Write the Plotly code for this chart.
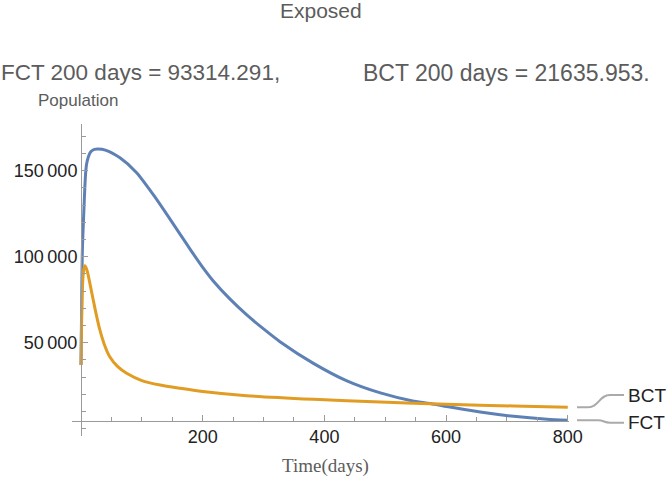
import plotly.graph_objects as go

# ---------------- data ----------------
fct_days = [0, 1, 2, 3, 4.5, 6, 7.5, 9, 12, 16, 22, 28, 40, 64, 91, 120, 146, 163,
            180, 201, 217, 245, 272, 300, 327, 382, 437, 492, 547, 582, 601, 656,
            711, 766, 800]
fct_vals = [37000, 70000, 100000, 112000, 125000, 138000, 148000, 153500, 158000,
            161000, 162400, 162600, 162000, 157500, 149000, 135500, 122000, 113000,
            104000, 93300, 86000, 75300, 66300, 58000, 50600, 38000, 27800, 20800,
            16000, 14200, 12900, 9700, 7200, 5500, 4880]

bct_days = [0, 1, 2, 3, 4.5, 6.5, 9, 12, 16, 20, 25, 31, 38, 47, 60, 75, 100, 130,
            163, 200, 272, 382, 492, 601, 711, 800]
bct_vals = [37000, 62000, 78000, 87000, 92500, 94800, 93000, 89000, 82000, 75000,
            66500, 57400, 49300, 42000, 36200, 32200, 28000, 25400, 23500, 21636,
            19200, 17100, 15500, 14200, 13200, 12400]

x_tickvals = [200, 400, 600, 800]
x_ticktext = ["200", "400", "600", "800"]
y_tickvals = [50000, 100000, 150000]
y_ticktext = ["50\u2009000", "100\u2009000", "150\u2009000"]

title_text = "Exposed"
fct_note = "FCT 200 days = 93314.291,"
bct_note = "BCT 200 days = 21635.953."
y_label = "Population"
x_label = "Time(days)"
series_names = ["FCT", "BCT"]

# ---------------- layout geometry ----------------
W, H = 667, 479
L, R, T, B = 72, 569, 124, 436          # plot area in pixels
XMIN, XMAX = -14.8, 802.0
YMIN, YMAX = -4244.0, 177150.0
X_AXIS_AT = 4650.0                        # where the x axis crosses
Y_AXIS_AT = 0.0

def px(xp):   # pixel -> paper x
    return (xp - L) / (R - L)

def py(yp):   # pixel -> paper y
    return (B - yp) / (B - T)

def dx(v):    # data -> paper x
    return (v - XMIN) / (XMAX - XMIN)

def dy(v):    # data -> paper y
    return (v - YMIN) / (YMAX - YMIN)

BLUE = "rgb(94,129,181)"
ORANGE = "rgb(225,156,36)"
AXIS = "#9a9a9a"
TEXT_GRAY = "#5c5c5c"
FONT = "Liberation Sans, Arial, sans-serif"

fig = go.Figure()
fig.add_trace(go.Scatter(x=fct_days, y=fct_vals, mode="lines", name=series_names[0],
                         line=dict(color=BLUE, width=3, shape="spline", smoothing=0.7)))
fig.add_trace(go.Scatter(x=bct_days, y=bct_vals, mode="lines", name=series_names[1],
                         line=dict(color=ORANGE, width=3, shape="spline", smoothing=0.7)))

fig.update_layout(
    width=W, height=H,
    margin=dict(l=L, r=W - R, t=T, b=H - B, pad=0),
    paper_bgcolor="white", plot_bgcolor="white",
    showlegend=False,
    font=dict(family=FONT, color="#222"),
    xaxis=dict(range=[XMIN, XMAX], anchor="free", position=dy(X_AXIS_AT),
               showline=True, linecolor=AXIS, linewidth=1,
               ticks="inside", ticklen=6, tickwidth=1, tickcolor=AXIS,
               tickmode="array", tickvals=x_tickvals, ticktext=x_ticktext,
               tickfont=dict(size=18, color="#222", family=FONT),
               minor=dict(tickmode="linear", tick0=0, dtick=50, ticks="inside",
                          ticklen=3.5, tickcolor=AXIS, showgrid=False),
               showgrid=False, zeroline=False, fixedrange=True),
    yaxis=dict(range=[YMIN, YMAX], anchor="free", position=dx(Y_AXIS_AT),
               showline=True, linecolor=AXIS, linewidth=1,
               ticks="inside", ticklen=6, tickwidth=1, tickcolor=AXIS,
               tickmode="array", tickvals=y_tickvals, ticktext=y_ticktext,
               tickfont=dict(size=18, color="#222", family=FONT),
               minor=dict(tickmode="linear", tick0=0, dtick=10000, ticks="inside",
                          ticklen=3.5, tickcolor=AXIS, showgrid=False),
               showgrid=False, zeroline=False, fixedrange=True),
)

ann = []
ann.append(dict(text=title_text, x=px(321), y=py(11), xref="paper", yref="paper",
                xanchor="center", yanchor="middle", showarrow=False,
                font=dict(size=21, color=TEXT_GRAY, family=FONT)))
ann.append(dict(text=fct_note, x=px(-1), y=py(73), xref="paper", yref="paper",
                xanchor="left", yanchor="middle", showarrow=False,
                font=dict(size=22.5, color=TEXT_GRAY, family=FONT)))
ann.append(dict(text=bct_note, x=px(361), y=py(73), xref="paper", yref="paper",
                xanchor="left", yanchor="middle", showarrow=False,
                font=dict(size=23, color=TEXT_GRAY, family=FONT)))
ann.append(dict(text=y_label, x=px(36), y=py(100), xref="paper", yref="paper",
                xanchor="left", yanchor="middle", showarrow=False,
                font=dict(size=17, color=TEXT_GRAY, family=FONT)))
ann.append(dict(text=x_label, x=px(325), y=py(466), xref="paper", yref="paper",
                xanchor="center", yanchor="middle", showarrow=False,
                font=dict(size=19, color=TEXT_GRAY, family="Liberation Serif, Times New Roman, serif")))
ann.append(dict(text=series_names[1], x=px(626), y=py(395), xref="paper", yref="paper",
                xanchor="left", yanchor="middle", showarrow=False,
                font=dict(size=19, color="#222", family=FONT)))
ann.append(dict(text=series_names[0], x=px(626), y=py(422.7), xref="paper", yref="paper",
                xanchor="left", yanchor="middle", showarrow=False,
                font=dict(size=19, color="#222", family=FONT)))
fig.update_layout(annotations=ann)

# leader lines from the series ends to their labels
def leader(y_end_val, label_py, bend_start, bend_end):
    ys = dy(y_end_val)
    yl = py(label_py)
    x0, x1, x2, x3 = px(577), px(bend_start), px(bend_end), px(624)
    xm = (x1 + x2) / 2
    return (f"M {x0},{ys} L {x1},{ys} C {xm},{ys} {xm},{yl} {x2},{yl} L {x3},{yl}")

fig.update_layout(shapes=[
    dict(type="path", xref="paper", yref="paper",
         path=leader(bct_vals[-1], 395, 588, 610),
         line=dict(color="#aaaaaa", width=2)),
    dict(type="path", xref="paper", yref="paper",
         path=leader(fct_vals[-1], 422.7, 598, 610),
         line=dict(color="#aaaaaa", width=2)),
])

fig.write_html("out.html", config={"displayModeBar": False},
               post_script="document.body.style.margin='0';")
